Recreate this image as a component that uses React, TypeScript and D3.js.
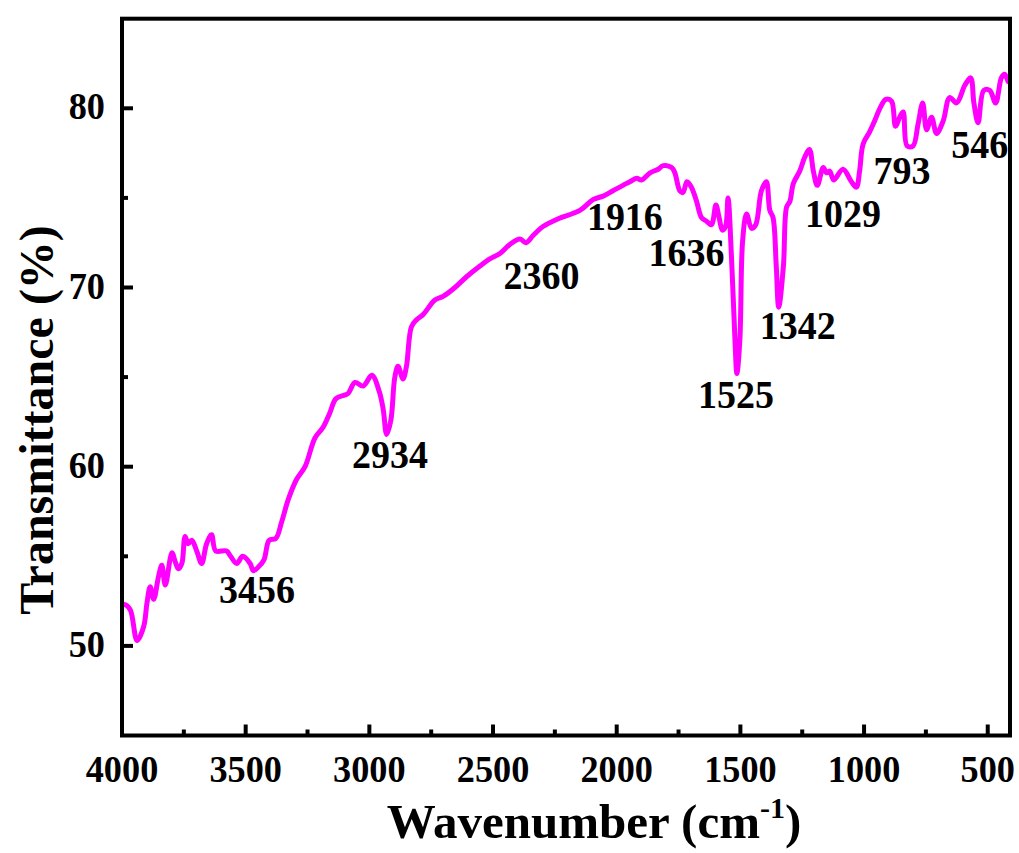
import React from 'react';
import * as d3 from 'd3';

const wavenumbers = [
  4000, 3986, 3966, 3939, 3912, 3899, 3886, 3872, 3852, 3839, 3825, 3798, 3785, 3772, 3758, 3745, 3732, 3718,
  3698, 3678, 3658, 3638, 3621, 3577, 3561, 3536, 3512, 3482, 3469, 3449, 3426, 3405, 3378, 3355, 3327, 3294,
  3260, 3220, 3187, 3160, 3135, 3099, 3085, 3058, 3025, 2990, 2960, 2944, 2930, 2913, 2897, 2884, 2864, 2850,
  2830, 2809, 2782, 2735, 2702, 2654, 2607, 2553, 2513, 2472, 2432, 2391, 2367, 2338, 2298, 2243, 2149, 2096,
  2055, 2015, 1975, 1947, 1920, 1900, 1865, 1832, 1812, 1778, 1765, 1745, 1732, 1716, 1698, 1677, 1657, 1637,
  1617, 1599, 1586, 1573, 1560, 1550, 1536, 1522, 1514, 1502, 1491, 1475, 1455, 1438, 1415, 1395, 1381, 1368,
  1355, 1345, 1326, 1313, 1300, 1286, 1260, 1239, 1221, 1205, 1189, 1165, 1152, 1139, 1123, 1085, 1051, 1031,
  1018, 1004, 977, 957, 936, 912, 889, 873, 856, 842, 826, 802, 782, 763, 747, 727, 707, 680, 654, 626, 592,
  569, 556, 539, 516, 492, 468, 445, 432, 418,
];

const transmittance = [
  52.3, 52.3, 52.0, 50.3, 51.1, 52.4, 53.3, 52.6, 53.9, 54.5, 53.4, 55.2, 54.7, 54.3, 54.6, 56.1, 55.7, 55.9,
  55.3, 54.6, 55.7, 56.2, 55.3, 55.3, 55.0, 54.6, 55.0, 54.6, 54.2, 54.4, 54.8, 55.9, 56.0, 56.9, 58.2, 59.3,
  60.0, 61.6, 62.2, 63.0, 63.8, 64.0, 64.1, 64.7, 64.5, 65.1, 64.2, 63.2, 61.8, 62.6, 65.0, 65.6, 64.9, 65.6,
  67.8, 68.2, 68.5, 69.3, 69.5, 70.0, 70.6, 71.2, 71.6, 71.9, 72.4, 72.7, 72.5, 72.9, 73.4, 73.8, 74.3, 74.9,
  75.1, 75.4, 75.7, 75.9, 76.1, 76.0, 76.4, 76.6, 76.8, 76.7, 76.4, 75.4, 75.3, 75.9, 75.6, 74.8, 73.9, 73.7,
  73.5, 74.6, 73.9, 73.2, 73.4, 75.0, 71.7, 67.1, 65.2, 67.1, 72.6, 74.1, 73.3, 73.5, 75.4, 75.9, 74.3, 73.9,
  71.2, 68.9, 71.2, 74.5, 74.8, 75.8, 76.5, 77.3, 77.7, 76.5, 75.7, 76.7, 76.4, 76.5, 76.0, 76.6, 75.9, 75.6,
  76.5, 78.0, 78.7, 79.3, 80.0, 80.5, 80.4, 79.0, 79.5, 79.8, 77.9, 77.9, 79.1, 80.3, 78.8, 79.5, 78.6, 79.3,
  80.6, 80.3, 81.3, 81.7, 80.3, 79.2, 81.0, 81.0, 80.3, 81.7, 81.9, 81.5,
];

const xTickValues = [4000, 3500, 3000, 2500, 2000, 1500, 1000, 500];
const xMinorValues = [3750, 3250, 2750, 2250, 1750, 1250, 750];
const yTickValues = [50, 60, 70, 80];
const yMinorValues = [55, 65, 75];

const peakLabels = ['3456', '2934', '2360', '1916', '1636', '1525', '1342', '1029', '793', '546'];
const peakLabelWn = [3454, 2917, 2304, 1967, 1718, 1518, 1268, 1085, 847, 532];
const peakLabelT = [52.4, 59.9, 69.9, 73.2, 71.2, 63.25, 67.15, 73.4, 75.8, 77.2];

const FONT = '"Liberation Serif", "Times New Roman", Times, serif';

export default function App() {
  const W = 1019;
  const H = 853;
  const left = 122;
  const right = 1010;
  const top = 18.7;
  const bottom = 735.5;

  const x = d3.scaleLinear().domain([4000, 410]).range([left, right]);
  const y = d3.scaleLinear().domain([45, 85]).range([bottom, top]);

  const line = d3
    .line<number>()
    .x((_, i) => x(wavenumbers[i]))
    .y((d) => y(d))
    .curve(d3.curveCatmullRom.alpha(0.5));

  const pathD = line(transmittance) || '';

  const label = (
    key: string,
    px: number,
    py: number,
    txt: string,
    anchor: 'start' | 'middle' | 'end',
    size: number,
    sx: number
  ) => (
    <text
      key={key}
      transform={`translate(${px},${py}) scale(${sx},1)`}
      textAnchor={anchor}
      fontFamily={FONT}
      fontWeight="bold"
      fontSize={size}
      fill="#000"
    >
      {txt}
    </text>
  );

  return (
    <svg
      width={W}
      height={H}
      viewBox={`0 0 ${W} ${H}`}
      style={{ position: 'absolute', left: 0, top: 0, background: '#fff' }}
    >
      <rect x={0} y={0} width={W} height={H} fill="#fff" />
      <defs>
        <clipPath id="plotClip">
          <rect x={left} y={top} width={right - left} height={bottom - top} />
        </clipPath>
      </defs>

      <path
        d={pathD}
        fill="none"
        stroke="#ff00ff"
        strokeWidth={5}
        strokeLinejoin="round"
        strokeLinecap="round"
        clipPath="url(#plotClip)"
      />

      {/* frame */}
      <rect x={left} y={top} width={right - left} height={bottom - top} fill="none" stroke="#000" strokeWidth={4} />

      {/* x ticks */}
      {xTickValues.map((v) => (
        <g key={`xt${v}`}>
          <line x1={x(v)} x2={x(v)} y1={bottom} y2={bottom - 11} stroke="#000" strokeWidth={4} />
          {label(`xl${v}`, x(v), 782, String(v), 'middle', 39, 0.93)}
        </g>
      ))}
      {xMinorValues.map((v) => (
        <line key={`xm${v}`} x1={x(v)} x2={x(v)} y1={bottom} y2={bottom - 6} stroke="#000" strokeWidth={4} />
      ))}

      {/* y ticks */}
      {yTickValues.map((v) => (
        <g key={`yt${v}`}>
          <line x1={left} x2={left + 11} y1={y(v)} y2={y(v)} stroke="#000" strokeWidth={4} />
          {label(`yl${v}`, left - 17, y(v) + 11, String(v), 'end', 39, 0.93)}
        </g>
      ))}
      {yMinorValues.map((v) => (
        <line key={`ym${v}`} x1={left} x2={left + 6} y1={y(v)} y2={y(v)} stroke="#000" strokeWidth={4} />
      ))}

      {/* peak labels */}
      {peakLabels.map((t, i) =>
        label(`pl${t}`, x(peakLabelWn[i]), y(peakLabelT[i]), t, 'middle', 40, 0.95)
      )}

      {/* axis titles */}
      <text
        x={594}
        y={838}
        textAnchor="middle"
        fontFamily={FONT}
        fontWeight="bold"
        fontSize={49}
        fill="#000"
      >
        Wavenumber (cm
        <tspan fontSize={30} dy={-20}>-1</tspan>
        <tspan dy={20}>)</tspan>
      </text>
      <text
        transform={`translate(53, 420) rotate(-90)`}
        textAnchor="middle"
        fontFamily={FONT}
        fontWeight="bold"
        fontSize={48}
        fill="#000"
      >
        Transmittance (%)
      </text>
    </svg>
  );
}
